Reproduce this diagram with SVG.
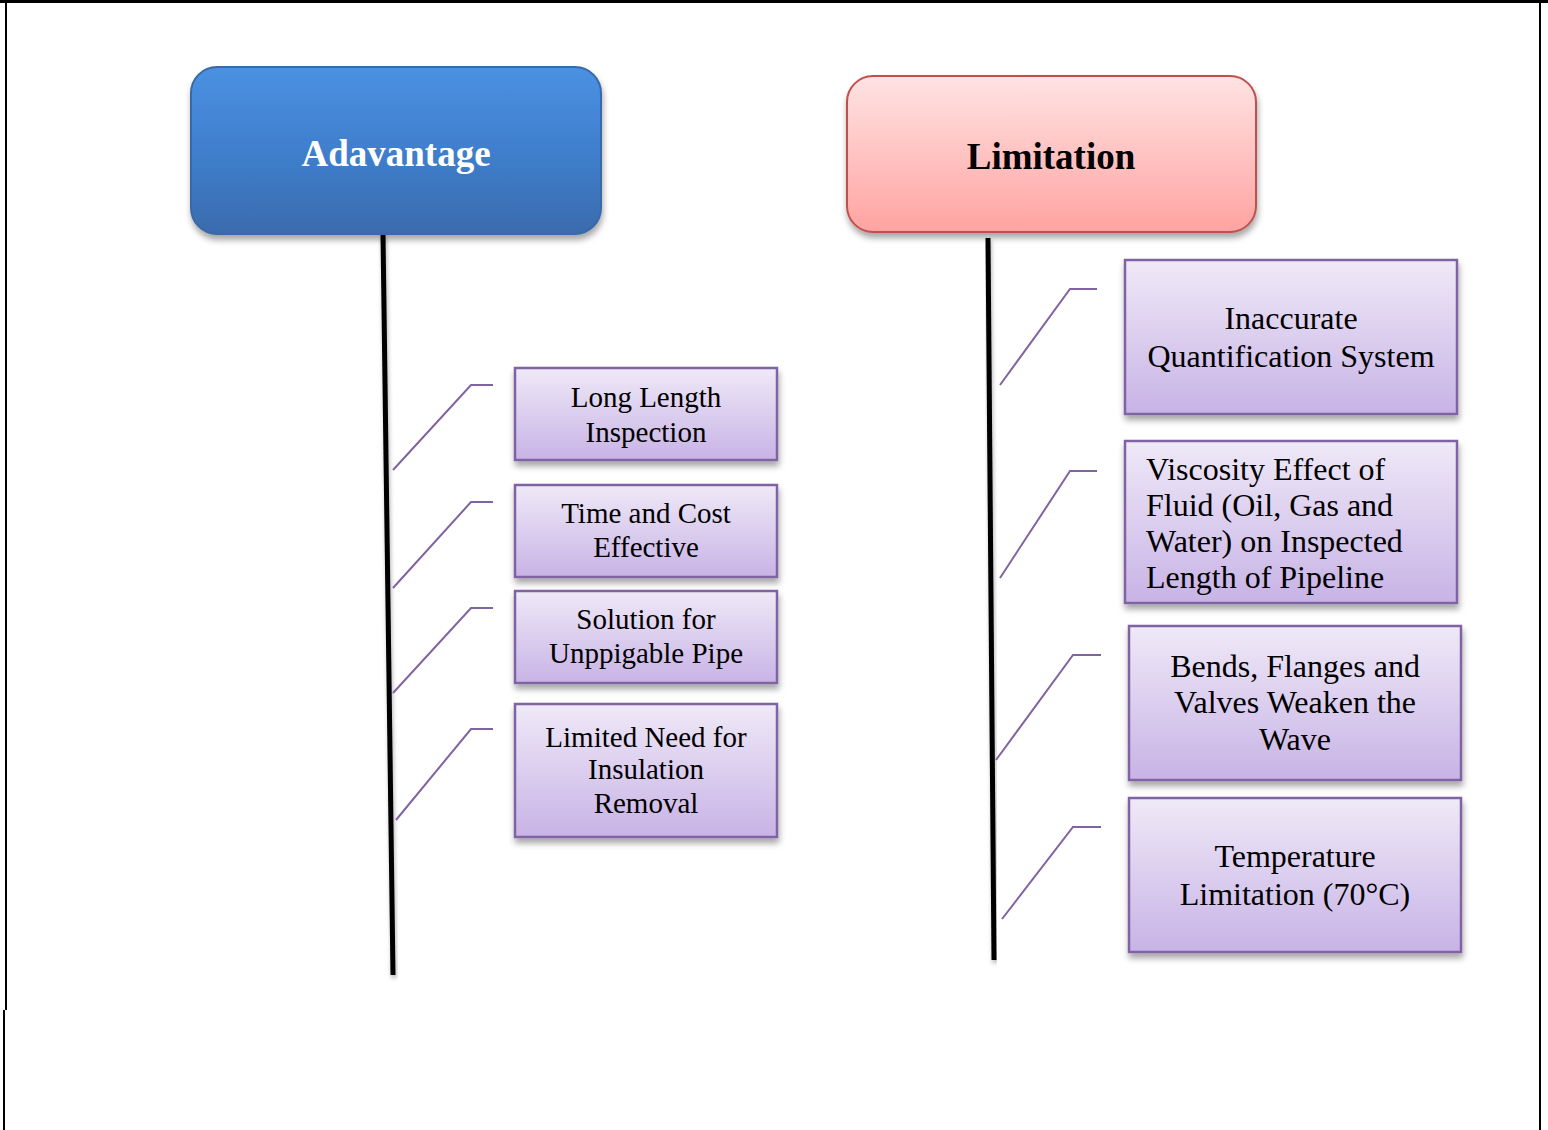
<svg xmlns="http://www.w3.org/2000/svg" width="1548" height="1130" viewBox="0 0 1548 1130">
<defs>
<linearGradient id="gBlue" x1="0" y1="0" x2="0" y2="1">
<stop offset="0" stop-color="#4b91e2"/><stop offset="0.5" stop-color="#3f7fcd"/><stop offset="1" stop-color="#3a6bad"/>
</linearGradient>
<linearGradient id="gPink" x1="0" y1="0" x2="0" y2="1">
<stop offset="0" stop-color="#ffe3e3"/><stop offset="1" stop-color="#ffa3a1"/>
</linearGradient>
<linearGradient id="gPurple" x1="0" y1="0" x2="0" y2="1">
<stop offset="0" stop-color="#efe9f7"/><stop offset="1" stop-color="#c8b3e6"/>
</linearGradient>
<filter id="sh" x="-10%" y="-10%" width="125%" height="135%">
<feDropShadow dx="1" dy="5" stdDeviation="3" flood-color="#000" flood-opacity="0.35"/>
</filter>
<filter id="shl" x="-50%" y="-5%" width="200%" height="110%">
<feDropShadow dx="1" dy="3" stdDeviation="2" flood-color="#000" flood-opacity="0.3"/>
</filter>
</defs>
<style>
.frame{stroke:#000;fill:none}
.item{fill:url(#gPurple);stroke:#8064a2;stroke-width:2.5;filter:url(#sh)}
.t{font-family:"Liberation Serif","Times New Roman",serif;fill:#000;text-anchor:middle}
.st{text-anchor:start}
.s29{font-size:29px}
.s31{font-size:32px}
.hd{font-family:"Liberation Serif","Times New Roman",serif;font-weight:bold;font-size:37px;text-anchor:middle}
.conn{fill:none;stroke:#8064a2;stroke-width:2}
.trunk{stroke:#000;stroke-width:5;fill:none;filter:url(#shl)}
</style>
<rect width="1548" height="1130" fill="#fff"/>
<g id="frame">
<line class="frame" x1="0" y1="1.5" x2="1548" y2="1.5" stroke-width="3"/>
<line class="frame" x1="6" y1="0" x2="6" y2="1010" stroke-width="2"/>
<line class="frame" x1="4" y1="1010" x2="4" y2="1130" stroke-width="2"/>
<line class="frame" x1="1540" y1="0" x2="1540" y2="1130" stroke-width="2"/>
</g>
<g id="connectors">
<line class="trunk" x1="383" y1="234" x2="393" y2="975"/>
<line class="trunk" x1="988" y1="238" x2="994" y2="960"/>
<polyline class="conn" points="393,470 471,385 493,385"/>
<polyline class="conn" points="393,588 471,502 493,502"/>
<polyline class="conn" points="393,693 471,608 493,608"/>
<polyline class="conn" points="396,820 471,729 493,729"/>
<polyline class="conn" points="1000,385 1070,289 1097,289"/>
<polyline class="conn" points="1000,578 1070,471 1097,471"/>
<polyline class="conn" points="996,760 1073,655 1101,655"/>
<polyline class="conn" points="1002,919 1073,827 1101,827"/>
</g>
<g id="advantage">
<rect x="191" y="67" width="410" height="167" rx="26" fill="url(#gBlue)" stroke="#3a68a6" stroke-width="2" filter="url(#sh)"/>
<text class="hd" x="396" y="166" fill="#fff">Adavantage</text>
</g>
<g id="limitation">
<rect x="847" y="76" width="409" height="156" rx="26" fill="url(#gPink)" stroke="#c0504d" stroke-width="2" filter="url(#sh)"/>
<text class="hd" x="1051" y="169" fill="#000">Limitation</text>
</g>
<g id="adv1">
<rect class="item" x="515" y="368" width="262" height="92"/>
<text class="t s29" x="646" y="407">Long Length</text>
<text class="t s29" x="646" y="442">Inspection</text>
</g>
<g id="adv2">
<rect class="item" x="515" y="485" width="262" height="92"/>
<text class="t s29" x="646" y="523">Time and Cost</text>
<text class="t s29" x="646" y="557">Effective</text>
</g>
<g id="adv3">
<rect class="item" x="515" y="591" width="262" height="92"/>
<text class="t s29" x="646" y="629">Solution for</text>
<text class="t s29" x="646" y="663">Unppigable Pipe</text>
</g>
<g id="adv4">
<rect class="item" x="515" y="704" width="262" height="133"/>
<text class="t s29" x="646" y="747">Limited Need for</text>
<text class="t s29" x="646" y="779">Insulation</text>
<text class="t s29" x="646" y="813">Removal</text>
</g>
<g id="lim1">
<rect class="item" x="1125" y="260" width="332" height="154"/>
<text class="t s31" x="1291" y="329">Inaccurate</text>
<text class="t s31" x="1291" y="367">Quantification System</text>
</g>
<g id="lim2">
<rect class="item" x="1125" y="441" width="332" height="162"/>
<text class="t st s31" x="1146" y="480">Viscosity Effect of</text>
<text class="t st s31" x="1146" y="516">Fluid (Oil, Gas and</text>
<text class="t st s31" x="1146" y="552">Water) on Inspected</text>
<text class="t st s31" x="1146" y="588">Length of Pipeline</text>
</g>
<g id="lim3">
<rect class="item" x="1129" y="626" width="332" height="154"/>
<text class="t s31" x="1295" y="677">Bends, Flanges and</text>
<text class="t s31" x="1295" y="713">Valves Weaken the</text>
<text class="t s31" x="1295" y="750">Wave</text>
</g>
<g id="lim4">
<rect class="item" x="1129" y="798" width="332" height="154"/>
<text class="t s31" x="1295" y="867">Temperature</text>
<text class="t s31" x="1295" y="905">Limitation (70°C)</text>
</g>
</svg>
